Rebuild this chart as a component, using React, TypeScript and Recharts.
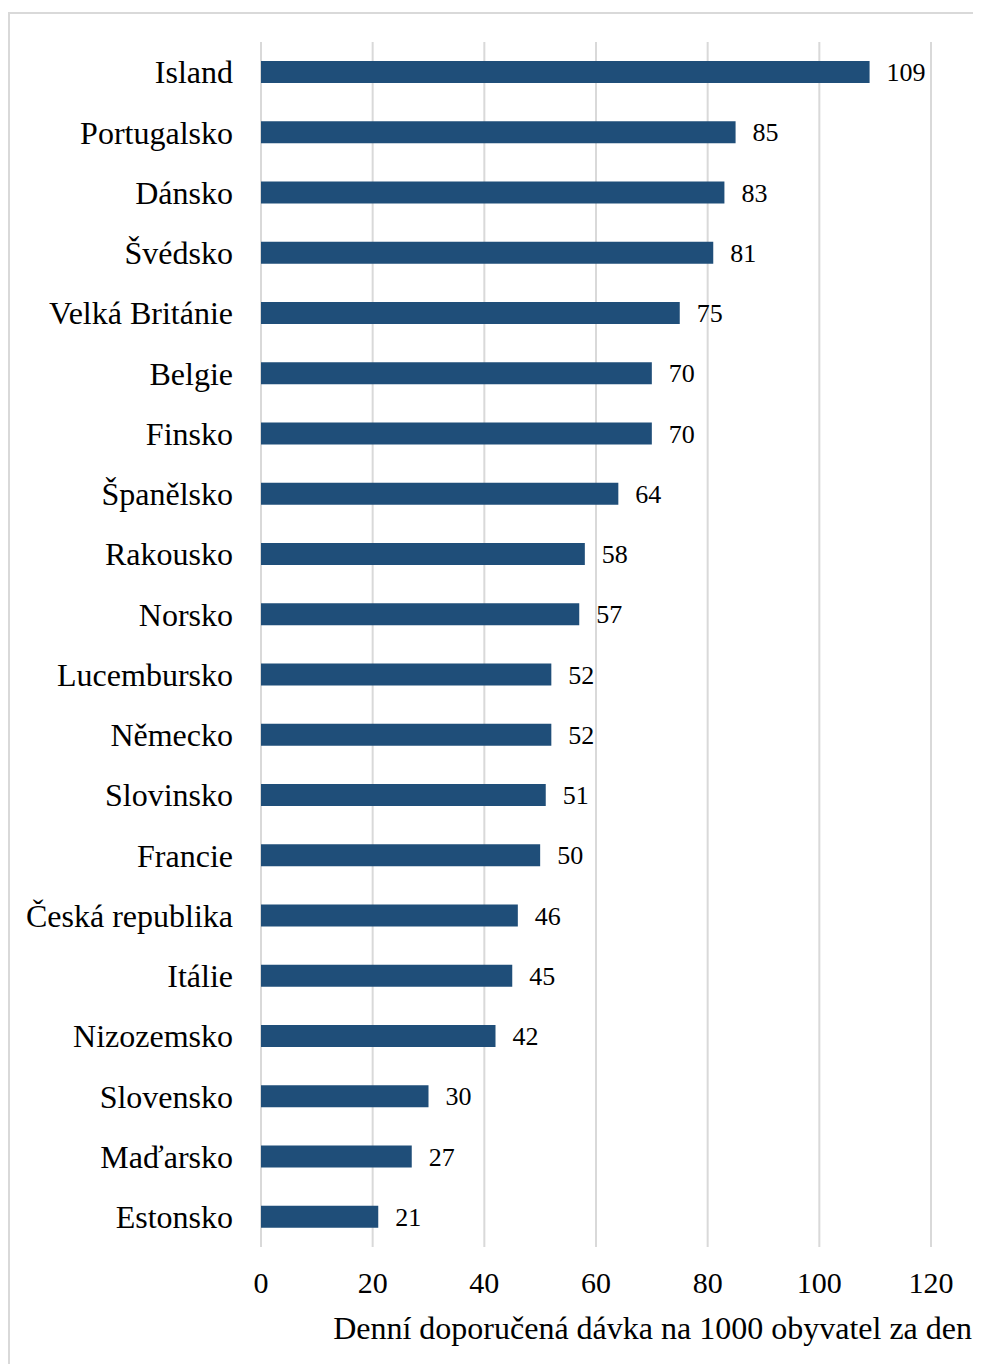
import React from "react";
import { BarChart, Bar, XAxis, YAxis, CartesianGrid, LabelList } from "recharts";

const countries = [
  "Island", "Portugalsko", "Dánsko", "Švédsko", "Velká Británie", "Belgie", "Finsko",
  "Španělsko", "Rakousko", "Norsko", "Lucembursko", "Německo", "Slovinsko", "Francie",
  "Česká republika", "Itálie", "Nizozemsko", "Slovensko", "Maďarsko", "Estonsko",
];
const values = [109, 85, 83, 81, 75, 70, 70, 64, 58, 57, 52, 52, 51, 50, 46, 45, 42, 30, 27, 21];
const xTicks = [0, 20, 40, 60, 80, 100, 120];
const axisTitle = "Denní doporučená dávka na 1000 obyvatel za den";

const data = countries.map((c, i) => ({ name: c, value: values[i] }));

const FONT = '"Liberation Serif", "Times New Roman", serif';

export default function App() {
  return (
    <div style={{ position: "relative", width: 965, height: 1356, background: "#fff" }}>
      <div
        style={{
          position: "absolute",
          top: 4,
          left: 0,
          width: 971,
          height: 1352,
          borderTop: "2px solid #d9d9d9",
          borderLeft: "2px solid #d9d9d9",
        }}
      />
      <div style={{ position: "absolute", top: 0, left: 0 }}>
        <BarChart
          width={965}
          height={1356}
          data={data}
          layout="vertical"
          margin={{ top: 34, right: 42, left: 0, bottom: 27 }}
          barSize={22}
        >
          <CartesianGrid horizontal={false} vertical={true} stroke="#d9d9d9" strokeWidth={2} />
          <XAxis
            type="number"
            domain={[0, 120]}
            ticks={xTicks}
            axisLine={false}
            tickLine={false}
            tickSize={0}
            tickMargin={25}
            height={90}
            tick={{ fontFamily: FONT, fontSize: 30, fill: "#000" }}
          />
          <YAxis
            type="category"
            dataKey="name"
            width={253}
            axisLine={false}
            tickLine={false}
            tickSize={0}
            tickMargin={28}
            interval={0}
            tick={{ fontFamily: FONT, fontSize: 32, fill: "#000" }}
          />
          <Bar dataKey="value" fill="#1f4e79" isAnimationActive={false}>
            <LabelList
              dataKey="value"
              position="right"
              offset={17}
              style={{ fontFamily: FONT, fontSize: 26, fill: "#000" }}
            />
          </Bar>
        </BarChart>
      </div>
      <div
        style={{
          position: "absolute",
          top: 1302,
          right: 1,
          fontFamily: FONT,
          fontSize: 32,
          lineHeight: "36px",
          whiteSpace: "nowrap",
          color: "#000",
        }}
      >
        {axisTitle}
      </div>
    </div>
  );
}
